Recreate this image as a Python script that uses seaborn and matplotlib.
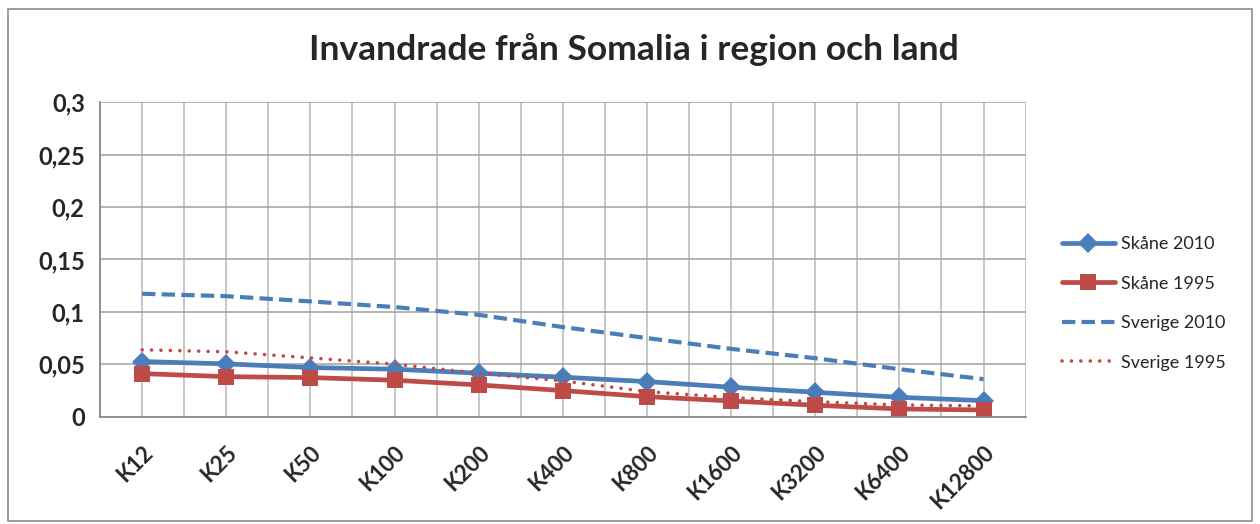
import numpy as np
import pandas as pd
import matplotlib
matplotlib.use("Agg")
import matplotlib.pyplot as plt
import seaborn as sns
from matplotlib.patches import Rectangle

# data
categories = ["K12", "K25", "K50", "K100", "K200", "K400", "K800",
              "K1600", "K3200", "K6400", "K12800"]
skane_2010 = [0.0526, 0.0504, 0.0469, 0.0453, 0.0415, 0.0377, 0.0335,
              0.0281, 0.0233, 0.0185, 0.0153]
skane_1995 = [0.0411, 0.0382, 0.0373, 0.0348, 0.0303, 0.0249, 0.0191,
              0.0150, 0.0109, 0.0074, 0.0064]
sverige_2010 = [0.1173, 0.1150, 0.1100, 0.1046, 0.0972, 0.0855, 0.0750,
                0.0647, 0.0558, 0.0453, 0.0358]
sverige_1995 = [0.0638, 0.0619, 0.0561, 0.0501, 0.0415, 0.0341, 0.0239,
                0.0182, 0.0143, 0.0112, 0.0102]
y_ticks = [0, 0.05, 0.1, 0.15, 0.2, 0.25, 0.3]
y_labels = ["0", "0,05", "0,1", "0,15", "0,2", "0,25", "0,3"]

sns.set_theme(style="white")
plt.rcParams['font.family'] = ['Lato', 'DejaVu Sans']

blue = "#4a7ebb"
red = "#be4b48"

x = np.arange(len(categories))

fig = plt.figure(figsize=(12.6, 5.24), dpi=100)
ax = fig.add_axes([0.0794, 0.2048, 0.7346, 0.6])

series = [
    ("Skåne 2010", skane_2010, dict(color=blue, linewidth=3.4, marker="D", markersize=10,
                                    markeredgewidth=0)),
    ("Skåne 1995", skane_1995, dict(color=red, linewidth=3.4, marker="s", markersize=11.5,
                                    markeredgewidth=0)),
    ("Sverige 2010", sverige_2010, dict(color=blue, linewidth=3.0, dashes=(3.2, 1.5))),
    ("Sverige 1995", sverige_1995, dict(color=red, linewidth=2.6, dashes=(0.01, 2.6),
                                        dash_capstyle="round")),
]
for name, vals, kw in series:
    df = pd.DataFrame({"x": x, "y": vals})
    sns.lineplot(data=df, x="x", y="y", ax=ax, label=name, **kw)

ax.set_xlim(-0.5, len(categories) - 0.5)
ax.set_ylim(0, 0.3)
ax.set_xticks(x)
ax.set_xticks(np.arange(-0.5, len(categories), 1.0), minor=True)
ax.set_xticklabels(categories, rotation=45, ha="right", rotation_mode="anchor",
                   fontsize=16, fontweight="bold")
ax.set_yticks(y_ticks)
ax.set_yticklabels(y_labels, fontsize=17, fontweight="bold")
ax.tick_params(axis="x", which="both", length=0, pad=18)
ax.tick_params(axis="y", length=0, pad=11)
ax.set_xlabel("")
ax.set_ylabel("")

ax.grid(True, which="both", axis="x", color="#b8b8b8", linewidth=1.1)
ax.grid(True, which="major", axis="y", color="#a0a0a0", linewidth=1.1)
ax.set_axisbelow(True)
for side in ["top", "right"]:
    ax.spines[side].set_visible(False)
for side in ["left", "bottom"]:
    ax.spines[side].set_color("#8c8c8c")
    ax.spines[side].set_linewidth(1.3)

ax.legend(loc="center left", bbox_to_anchor=(1.022, 0.36), frameon=False,
          fontsize=13, handlelength=2.9, labelspacing=1.3, handletextpad=0.35)

fig.text(0.503, 0.905, "Invandrade från Somalia i region och land",
         ha="center", va="center", fontsize=25.5, fontweight="bold")

# outer chart frame
fig.patches.append(Rectangle((0.006, 0.006), 0.988, 0.976, transform=fig.transFigure,
                             fill=False, edgecolor="#8c8c8c", linewidth=1.2))

plt.savefig("out.png", dpi=100)
